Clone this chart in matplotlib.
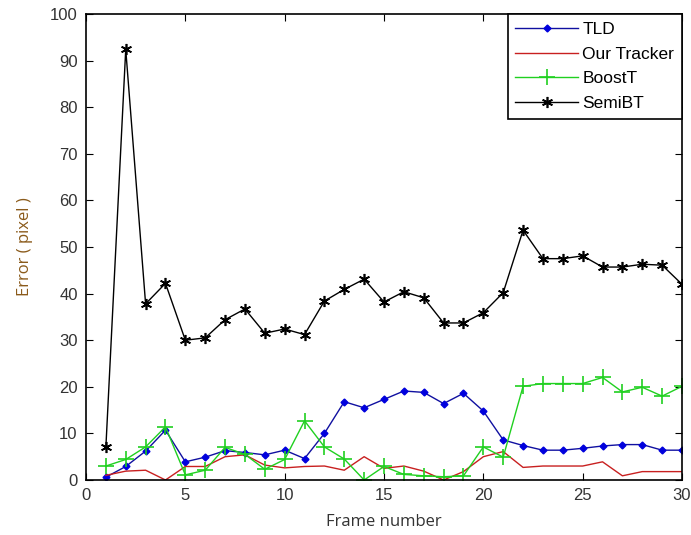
import numpy as np
import matplotlib
matplotlib.use("Agg")
import matplotlib.pyplot as plt

# frame index and per-tracker error (pixels)
frames = list(range(1, 31))
tld = [0.6, 2.9, 6.2, 10.7, 3.9, 4.9, 6.3, 5.9, 5.4, 6.4,
       4.6, 10.0, 16.8, 15.5, 17.3, 19.1, 18.8, 16.4, 18.6, 14.8,
       8.6, 7.4, 6.4, 6.4, 6.8, 7.3, 7.6, 7.6, 6.4, 6.4]
our_tracker = [1.0, 1.9, 2.1, 0.0, 2.9, 2.9, 5.0, 5.4, 3.2, 2.6,
               2.9, 3.0, 2.1, 5.0, 2.5, 3.0, 1.9, 0.0, 1.8, 5.0,
               6.1, 2.7, 3.0, 3.0, 3.0, 3.9, 0.9, 1.8, 1.8, 1.8]
boostt = [3.0, 4.4, 7.1, 11.4, 1.1, 2.1, 7.0, 5.5, 2.3, 4.4,
          12.7, 7.1, 4.5, 0.0, 2.9, 1.2, 0.9, 0.7, 0.9, 7.1,
          4.9, 20.1, 20.7, 20.7, 20.7, 22.0, 18.9, 19.9, 18.0, 20.1]
semibt = [7.0, 92.4, 37.8, 42.2, 30.0, 30.5, 34.4, 36.7, 31.5, 32.4,
          31.2, 38.4, 40.9, 43.1, 38.2, 40.4, 39.1, 33.7, 33.7, 35.9,
          40.2, 53.6, 47.5, 47.5, 48.1, 45.7, 45.7, 46.3, 46.1, 42.0]
labels = ["TLD", "Our Tracker", "BoostT", "SemiBT"]

fig = plt.figure(figsize=(6.91, 5.35), dpi=100)
ax = fig.add_axes([86 / 691, 1 - 480 / 535, 596 / 691, 466 / 535])

ax.plot(frames, tld, color="#1010a0", lw=1, marker="D", ms=3.5,
        mfc="#0000dd", mec="#0000dd", label=labels[0])
ax.plot(frames, our_tracker, color="#c82020", lw=1, label=labels[1])
ax.plot(frames, boostt, color="#20d020", lw=1, marker="+", ms=11,
        mew=1.2, label=labels[2])
ax.plot(frames, semibt, color="black", lw=1, marker=(6, 2, 0), ms=8,
        mew=1.2, label=labels[3])

ax.set_xlim(0, 30)
ax.set_ylim(0, 100)
ax.set_xticks(np.arange(0, 31, 5))
ax.set_yticks(np.arange(0, 101, 10))
ax.tick_params(direction="in", top=True, right=True, length=5,
               labelsize=12, labelcolor="#333333", pad=6)
for lab in ax.get_xticklabels() + ax.get_yticklabels():
    lab.set_family("Liberation Sans")
for s in ax.spines.values():
    s.set_linewidth(1.2)

ax.set_xlabel("Frame number", fontsize=12, family="Open Sans",
              color="#333333", labelpad=8)
ax.set_ylabel("Error ( pixel )", fontsize=12, family="Open Sans",
              color="#8a5a1a", labelpad=12)

leg = ax.legend(loc="upper right", handlelength=3.6,
                borderaxespad=0, fancybox=False, framealpha=1,
                labelspacing=0.55, borderpad=0.45, handletextpad=0.25,
                prop={"family": "Liberation Sans", "size": 12.5})
leg.get_frame().set_edgecolor("black")
leg.get_frame().set_linewidth(1.2)

fig.savefig("out.png", dpi=100)
